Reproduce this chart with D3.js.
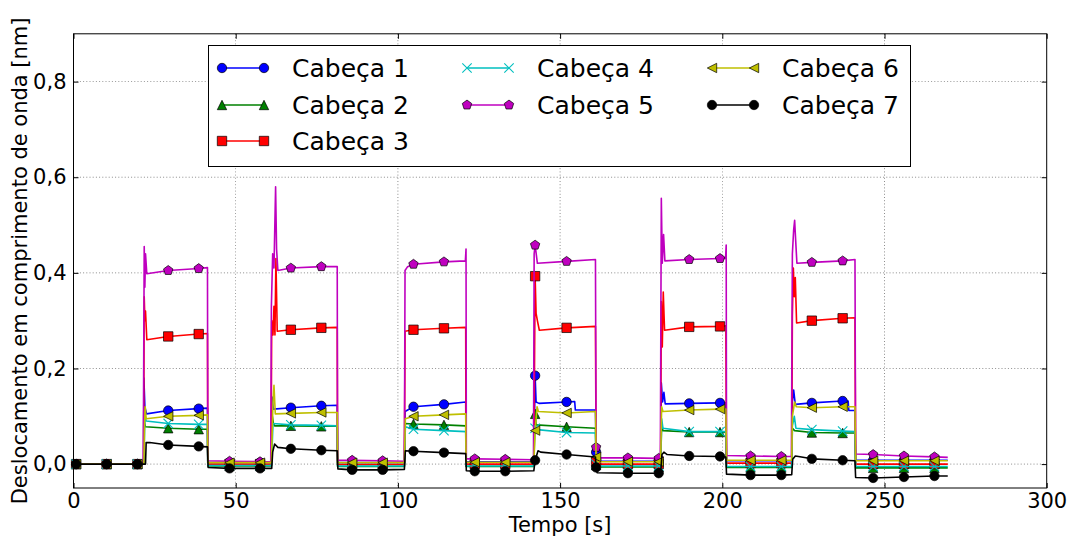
<!DOCTYPE html>
<html><head><meta charset="utf-8">
<script src="https://cdn.jsdelivr.net/npm/d3@7"></script>
<style>body{margin:0;background:#fff;} svg{display:block;font-family:"DejaVu Sans",sans-serif;}</style>
</head><body>
<svg id="c" width="1067" height="538"></svg>
<script>
// ---------- data ----------
const seriesNames = ["Cabeça 1","Cabeça 2","Cabeça 3","Cabeça 4","Cabeça 5","Cabeça 6","Cabeça 7"];
const xTicks = [0,50,100,150,200,250,300];
const yTicks = [0,0.2,0.4,0.6,0.8];
const markerTimes = [0.8,10.2,19.7,29.2,38.6,48.1,57.5,67.0,76.4,85.9,95.3,104.8,114.2,123.7,133.1,142.3,152.0,161.1,170.9,180.4,189.8,199.3,208.7,218.2,227.6,237.1,246.5,256.0,265.4];

const marks1 = [0,0,0,0.112,0.116,0.003,0.003,0.118,0.122,0.003,0.003,0.12,0.125,0.005,0.005,0.185,0.13,0.025,0.006,0.006,0.127,0.128,0.007,0.007,0.128,0.132,0.008,0.008,0.008];
const line1 = [[0,0],[21.6,0],[21.7,0.18],[22.0,0.12],[22.5,0.105],[41.3,0.117],[41.4,0.003],[60.9,0.003],[61.2,0.14],[61.6,0.115],[81.3,0.123],[81.4,0.003],[102.0,0.003],[102.2,0.11],[120.9,0.13],[121.0,0.005],[141.9,0.005],[142.6,0.13],[143.5,0.127],[154.5,0.131],[154.7,0.113],[160.9,0.113],[161.4,0.006],[181.0,0.006],[181.2,0.17],[181.6,0.13],[182.0,0.15],[182.4,0.126],[201.1,0.128],[201.3,0.007],[221.4,0.007],[221.6,0.13],[222.0,0.155],[222.5,0.125],[238.8,0.132],[239.0,0.112],[240.9,0.112],[241.1,0.008],[269.5,0.008]];

const marks2 = [0,0,0,0.075,0.073,-0.004,-0.004,0.08,0.079,-0.005,-0.005,0.084,0.082,-0.005,-0.005,0.105,0.078,-0.002,-0.006,-0.006,0.067,0.067,-0.007,-0.007,0.066,0.065,-0.008,-0.008,-0.008];
const line2 = [[0,0],[21.7,0],[21.8,0.09],[22.2,0.078],[41.3,0.073],[41.4,-0.004],[61.0,-0.004],[61.3,0.1],[61.6,0.085],[62.0,0.08],[81.3,0.079],[81.4,-0.005],[102.0,-0.005],[102.3,0.085],[120.9,0.08],[121.0,-0.005],[141.9,-0.005],[142.6,0.082],[160.9,0.075],[161.4,-0.006],[181.0,-0.006],[181.3,0.085],[181.7,0.07],[201.1,0.066],[201.3,-0.007],[221.4,-0.007],[221.6,0.075],[222.3,0.07],[240.9,0.065],[241.1,-0.008],[269.5,-0.008]];

const marks3 = [0,0,0,0.267,0.272,0,0,0.281,0.285,-0.001,-0.001,0.281,0.284,0,0,0.393,0.285,0.005,0,0,0.287,0.288,0.002,0.002,0.3,0.305,0,0,0];
const line3 = [[0,0],[21.6,0],[21.8,0.35],[22.0,0.30],[22.2,0.32],[22.6,0.26],[41.3,0.273],[41.4,0],[60.9,0],[61.1,0.30],[61.5,0.27],[61.8,0.33],[62.1,0.27],[62.4,0.43],[62.8,0.278],[81.3,0.286],[81.4,-0.001],[102.0,-0.001],[102.2,0.278],[120.9,0.286],[121.0,0],[141.9,0],[142.6,0.315],[143.0,0.30],[143.6,0.28],[160.9,0.288],[161.4,0],[181.0,0],[181.2,0.34],[181.5,0.245],[181.8,0.36],[182.2,0.28],[201.1,0.289],[201.3,0.002],[221.4,0.002],[221.6,0.31],[221.9,0.41],[222.2,0.35],[222.5,0.39],[222.9,0.295],[240.9,0.306],[241.1,0],[269.5,0]];

const marks4 = [0,0,0,0.085,0.083,-0.003,-0.003,0.082,0.081,-0.004,-0.004,0.073,0.07,-0.004,-0.004,0.075,0.066,0.0,-0.004,-0.004,0.068,0.068,-0.005,-0.005,0.072,0.069,-0.005,-0.005,-0.005];
const line4 = [[0,0],[21.7,0],[22.0,0.1],[22.4,0.09],[41.3,0.083],[41.4,-0.003],[61.0,-0.003],[61.5,0.085],[81.3,0.08],[81.4,-0.004],[102.0,-0.004],[102.3,0.078],[120.9,0.068],[121.0,-0.004],[141.9,-0.004],[142.1,0.08],[143.0,0.072],[160.9,0.065],[161.4,-0.004],[181.0,-0.004],[181.3,0.095],[181.7,0.075],[201.1,0.068],[201.3,-0.005],[221.4,-0.005],[221.6,0.08],[222.2,0.1],[222.7,0.075],[240.9,0.068],[241.1,-0.005],[269.5,-0.005]];

const marks5 = [0,0,0,0.405,0.409,0.006,0.005,0.41,0.413,0.008,0.007,0.418,0.423,0.011,0.01,0.458,0.424,0.035,0.013,0.012,0.428,0.43,0.017,0.016,0.422,0.425,0.02,0.017,0.015];
const line5 = [[0,0],[21.5,0],[21.8,0.455],[22.0,0.37],[22.2,0.44],[22.6,0.398],[41.3,0.411],[41.4,0.007],[60.8,0.005],[61.0,0.33],[61.4,0.44],[61.8,0.41],[62.3,0.58],[62.6,0.45],[63.0,0.405],[81.3,0.413],[81.4,0.008],[102.0,0.006],[102.2,0.405],[103.0,0.413],[120.8,0.425],[121.0,0.45],[121.1,0.011],[141.8,0.009],[142.0,0.44],[143.0,0.42],[160.9,0.428],[161.4,0.013],[180.9,0.012],[181.2,0.556],[181.5,0.42],[181.9,0.48],[182.3,0.425],[201.0,0.43],[201.2,0.458],[201.3,0.018],[221.3,0.016],[221.6,0.44],[222.0,0.49],[222.3,0.51],[222.6,0.47],[223.0,0.42],[240.9,0.428],[241.1,0.021],[269.5,0.014]];

const marks6 = [0,0,0,0.1,0.102,0.003,0.003,0.106,0.108,0.003,0.003,0.1,0.103,0.004,0.004,0.07,0.107,0.015,0.005,0.005,0.113,0.115,0.008,0.008,0.118,0.12,0.007,0.007,0.007];
const line6 = [[0,0],[21.7,0],[21.9,0.08],[22.1,0.12],[22.4,0.095],[41.3,0.103],[41.4,0.003],[61.0,0.003],[61.5,0.13],[61.8,0.165],[62.2,0.105],[81.3,0.108],[81.4,0.003],[102.0,0.003],[102.3,0.095],[120.9,0.105],[121.0,0.004],[141.9,0.004],[142.9,0.12],[143.3,0.11],[160.9,0.11],[161.4,0.005],[181.0,0.005],[181.3,0.12],[181.7,0.11],[201.1,0.115],[201.3,0.008],[221.4,0.008],[221.6,0.1],[222.3,0.13],[222.8,0.12],[240.9,0.12],[241.1,0.007],[269.5,0.007]];

const marks7 = [0,0,0,0.04,0.037,-0.009,-0.009,0.032,0.029,-0.012,-0.012,0.027,0.024,-0.015,-0.015,0.008,0.02,-0.007,-0.019,-0.019,0.017,0.016,-0.023,-0.023,0.011,0.008,-0.029,-0.027,-0.025];
const line7 = [[0,0],[22.2,0],[22.4,0.045],[23.5,0.045],[41.3,0.036],[41.5,-0.007],[61.1,-0.009],[61.4,0.025],[62.0,0.042],[63.0,0.035],[81.3,0.028],[81.5,-0.01],[102.0,-0.011],[102.3,0.028],[120.9,0.022],[121.1,-0.014],[141.9,-0.014],[143.2,0.028],[144.0,0.025],[160.9,0.015],[161.4,-0.018],[181.0,-0.018],[181.4,0.02],[182.0,0.025],[183.0,0.02],[201.1,0.015],[201.3,-0.021],[221.4,-0.022],[221.7,0.01],[222.5,0.017],[223.5,0.016],[240.9,0.007],[241.1,-0.028],[269.5,-0.025]];

const seriesColors = ["#0000ff","#008000","#ff0000","#00bfbf","#bf00bf","#bfbf00","#000000"];
const seriesSymbols = ["circle","triUp","square","x","pentagon","triLeft","circle"];

const allMarks = [marks1,marks2,marks3,marks4,marks5,marks6,marks7];
const allLines = [line1,line2,line3,line4,line5,line6,line7];

// ---------- layout ----------
const svg = d3.select("#c");
const L = 73.5, R = 1046.7, T = 33.8, B = 488;
const x = d3.scaleLinear().domain([0,300]).range([L,R]);
const y = d3.scaleLinear().domain([-0.05,0.9]).range([B,T]);
const fmt = d => d3.format(".1f")(d).replace(".",",");

// grid
const grid = svg.append("g");
grid.selectAll("line.gx").data(xTicks.slice(1,-1)).join("line")
  .attr("x1",d=>x(d)).attr("x2",d=>x(d)).attr("y1",T).attr("y2",B);
grid.selectAll("line.gy").data(yTicks).join("line")
  .attr("x1",L).attr("x2",R).attr("y1",d=>y(d)).attr("y2",d=>y(d));
grid.selectAll("line").attr("stroke","#000").attr("stroke-width",0.6)
  .attr("stroke-dasharray","1,2.2").attr("opacity",0.75);

// symbols
const MS = 4.7;
function symPath(type){
  const s = MS;
  if(type==="circle"){ const p=d3.path(); p.arc(0,0,s,0,2*Math.PI); p.closePath(); return p.toString(); }
  if(type==="square") return `M${-s},${-s}L${s},${-s}L${s},${s}L${-s},${s}Z`;
  if(type==="triUp") return `M0,${-s}L${-s},${s}L${s},${s}Z`;
  if(type==="triLeft") return `M${-s},0L${s},${-s}L${s},${s}Z`;
  if(type==="x") return `M${-s},${-s}L${s},${s}M${-s},${s}L${s},${-s}`;
  if(type==="pentagon"){
    const r = s*1.05; let d="";
    for(let i=0;i<5;i++){ const a=-Math.PI/2+i*2*Math.PI/5; d+=(i?"L":"M")+(r*Math.cos(a)).toFixed(2)+","+(r*Math.sin(a)).toFixed(2);} return d+"Z";
  }
}
function drawMarker(g, type, color, cx, cy){
  const p = g.append("path").attr("d",symPath(type)).attr("transform",`translate(${cx},${cy})`);
  if(type==="x") p.attr("fill","none").attr("stroke",color).attr("stroke-width",1.1);
  else p.attr("fill",color).attr("stroke","#000").attr("stroke-width",0.7);
}

const line = d3.line().x(d=>x(d[0])).y(d=>y(d[1]));
const plot = svg.append("g");
seriesNames.forEach((name,i)=>{
  const pts = allLines[i].concat(markerTimes.map((t,k)=>[t,allMarks[i][k]])).sort((a,b)=>a[0]-b[0]);
  plot.append("path").datum(pts).attr("d",line).attr("fill","none")
    .attr("stroke",seriesColors[i]).attr("stroke-width",1.6).attr("stroke-linejoin","round");
  const mg = plot.append("g");
  markerTimes.forEach((t,k)=>drawMarker(mg, seriesSymbols[i], seriesColors[i], x(t), y(allMarks[i][k])));
});

// axes (ticks inward, all four sides)
const axB = d3.axisBottom(x).tickValues(xTicks).tickSizeInner(-5).tickSizeOuter(0).tickPadding(5).tickFormat(d3.format("d"));
const axT = d3.axisTop(x).tickValues(xTicks).tickSizeInner(-5).tickSizeOuter(0).tickFormat("");
const axL = d3.axisLeft(y).tickValues(yTicks).tickSizeInner(-5).tickSizeOuter(0).tickPadding(7).tickFormat(fmt);
const axR = d3.axisRight(y).tickValues(yTicks).tickSizeInner(-5).tickSizeOuter(0).tickFormat("");
[[axB,`translate(0,${B})`],[axT,`translate(0,${T})`],[axL,`translate(${L},0)`],[axR,`translate(${R},0)`]].forEach(([a,tr])=>{
  const g = svg.append("g").attr("transform",tr).call(a);
  g.select(".domain").remove();
  g.selectAll("text").attr("font-size",21).attr("font-family","DejaVu Sans").attr("fill","#000");
  g.selectAll("line").attr("stroke","#000").attr("stroke-width",1);
});
svg.append("rect").attr("x",L).attr("y",T).attr("width",R-L).attr("height",B-T)
  .attr("fill","none").attr("stroke","#000").attr("stroke-width",1);

// axis labels
svg.append("text").attr("x",(L+R)/2).attr("y",532).attr("text-anchor","middle")
  .attr("font-size",21).text("Tempo [s]");
svg.append("text").attr("transform",`translate(27,${(T+B)/2}) rotate(-90)`).attr("text-anchor","middle")
  .attr("font-size",21).text("Deslocamento em comprimento de onda [nm]");

// legend
const lg = svg.append("g");
lg.append("rect").attr("x",208.5).attr("y",45.5).attr("width",702).attr("height",121)
  .attr("fill","#fff").attr("stroke","#000").attr("stroke-width",1);
const colX = [222, 467, 712];
const rowY = [68, 105, 141];
const layout = [[0,0],[0,1],[0,2],[1,0],[1,1],[2,0],[2,1]];
seriesNames.forEach((name,i)=>{
  const [c,r] = layout[i];
  const x0 = colX[c], x1 = colX[c]+42, yy = rowY[r];
  lg.append("line").attr("x1",x0).attr("x2",x1).attr("y1",yy).attr("y2",yy)
    .attr("stroke",seriesColors[i]).attr("stroke-width",1.6);
  drawMarker(lg, seriesSymbols[i], seriesColors[i], x0, yy);
  drawMarker(lg, seriesSymbols[i], seriesColors[i], x1, yy);
  lg.append("text").attr("x",colX[c]+70).attr("y",yy+9).attr("font-size",25).text(name);
});
</script>
</body></html>
